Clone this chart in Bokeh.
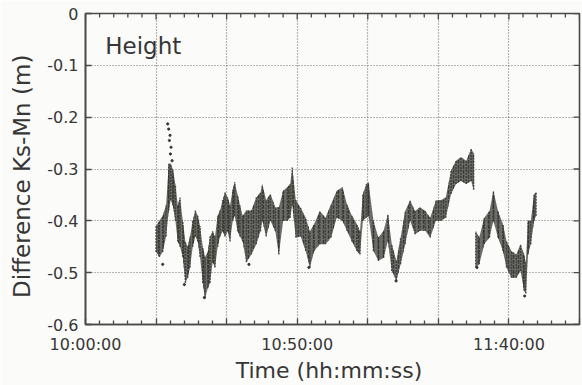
import numpy as np
from bokeh.plotting import figure
from bokeh.models import FixedTicker, CustomJSTickFormatter, Label, Range1d, ColumnDataSource
from bokeh.embed import file_html
from bokeh.resources import INLINE

# time in seconds after 10:00:00, lower/upper envelope of the scattered samples (m)
t = [1000, 1047, 1094, 1142, 1180, 1208, 1236, 1274, 1307, 1340, 1378, 1415, 1448, 1481,
     1519, 1557, 1590, 1623, 1661, 1694, 1732, 1764, 1802, 1835, 1873, 1906, 1944, 1977,
     2015, 2048, 2086, 2114, 2156, 2189, 2227, 2280, 2350, 2420, 2480, 2505, 2560, 2620,
     2690, 2740, 2800, 2860, 2900, 2930, 2980, 3050, 3120, 3180, 3240, 3320, 3400, 3480,
     3560, 3640, 3705, 3775, 3845, 3890, 3930, 3980, 4010, 4080, 4150, 4225, 4285, 4340,
     4405, 4465, 4530, 4600, 4670, 4740, 4815, 4885, 4965, 5040, 5105, 5180, 5250, 5320,
     5395, 5465, 5500,
     5530, 5580, 5650, 5725, 5780, 5845, 5915, 5965, 6035, 6105, 6165, 6215, 6240, 6270,
     6310, 6357, 6385]
lo = [-0.46, -0.47, -0.46, -0.43, -0.38, -0.36, -0.37, -0.40, -0.44, -0.45, -0.47, -0.52, -0.51, -0.49,
      -0.45, -0.43, -0.44, -0.47, -0.52, -0.55, -0.53, -0.52, -0.48, -0.49, -0.45, -0.43, -0.42, -0.43,
      -0.42, -0.44, -0.40, -0.39, -0.42, -0.43, -0.44, -0.48, -0.465, -0.445, -0.42, -0.40, -0.43, -0.40,
      -0.42, -0.465, -0.40, -0.40, -0.394, -0.37, -0.432, -0.43, -0.458, -0.49, -0.458, -0.445, -0.445, -0.432,
      -0.394, -0.40, -0.419, -0.44, -0.458, -0.465, -0.40, -0.394, -0.39, -0.458, -0.477, -0.471, -0.439, -0.497,
      -0.516, -0.484, -0.445, -0.40, -0.426, -0.419, -0.419, -0.432, -0.40, -0.40, -0.394, -0.348, -0.329, -0.323,
      -0.329, -0.323, -0.34,
      -0.49, -0.484, -0.445, -0.432, -0.40, -0.432, -0.458, -0.49, -0.51, -0.51, -0.497, -0.535, -0.54, -0.465,
      -0.445, -0.40, -0.39]
hi = [-0.41, -0.40, -0.39, -0.37, -0.29, -0.29, -0.30, -0.33, -0.37, -0.355, -0.40, -0.44, -0.45, -0.43,
      -0.40, -0.38, -0.39, -0.41, -0.45, -0.47, -0.46, -0.43, -0.42, -0.43, -0.39, -0.38, -0.36, -0.345,
      -0.355, -0.37, -0.34, -0.325, -0.35, -0.37, -0.39, -0.38, -0.38, -0.355, -0.345, -0.33, -0.36, -0.348,
      -0.374, -0.374, -0.342, -0.335, -0.329, -0.297, -0.36, -0.375, -0.394, -0.42, -0.406, -0.381, -0.394, -0.368,
      -0.342, -0.335, -0.368, -0.39, -0.406, -0.42, -0.348, -0.329, -0.326, -0.40, -0.432, -0.419, -0.387, -0.445,
      -0.477, -0.432, -0.381, -0.361, -0.381, -0.374, -0.381, -0.394, -0.361, -0.36, -0.355, -0.303, -0.284, -0.277,
      -0.284, -0.261, -0.27,
      -0.42, -0.432, -0.394, -0.381, -0.342, -0.381, -0.406, -0.439, -0.458, -0.465, -0.445, -0.465, -0.48, -0.40,
      -0.40, -0.348, -0.345]
gap_start = 5510  # recording gap

# isolated samples away from the main band
out_t = [1165, 1179, 1198, 1189, 1212, 1203, 1227, 1684, 1401, 1094, 2316, 3165, 4401, 6223, 5547]
out_v = [-0.213, -0.223, -0.235, -0.245, -0.258, -0.271, -0.284, -0.548, -0.523, -0.484, -0.484,
         -0.49, -0.516, -0.545, -0.49]

x_start, x_end = 0, 7000
y_start, y_end = -0.6, 0.0
x_major = [0, 1000, 2000, 3000, 4000, 5000, 6000, 7000]
x_minor = [m for m in range(200, 7000, 200) if m % 1000 != 0]
y_major = [-0.6, -0.5, -0.4, -0.3, -0.2, -0.1, 0.0]

ink = "#34342f"
frame = "#4a4a46"
txt = "#363636"
font = "DejaVu Sans"

p = figure(width=582, height=385, output_backend="svg", toolbar_location=None,
           x_range=Range1d(x_start, x_end), y_range=Range1d(y_start, y_end),
           min_border_left=85, min_border_right=3, min_border_top=13, min_border_bottom=61,
           background_fill_color="#fbfbf9", border_fill_color="#fbfbf9")
p.outline_line_color = frame
p.outline_line_width = 1.6

ta = np.array(t); la = np.array(lo); ha = np.array(hi)
for m in (ta < gap_start, ta >= gap_start):
    src = ColumnDataSource(dict(t=ta[m], lo=la[m], hi=ha[m]))
    p.varea(x="t", y1="lo", y2="hi", source=src, fill_color=ink, fill_alpha=0.72,
            hatch_pattern=":", hatch_color=ink, hatch_alpha=0.9, hatch_scale=5, hatch_weight=1.5)
    p.segment(x0="t", y0="lo", x1="t", y1="hi", source=src, line_color=ink, line_width=1.5,
              line_dash="2 1", line_alpha=0.8)
p.scatter(out_t, out_v, size=2.2, color=ink)

# inward tick marks on the top and right frame edges (half of each dash is clipped by the frame)
p.scatter(x_major, [y_end] * len(x_major), marker="dash", angle=np.pi / 2, size=12,
          line_color=frame, line_width=1.3)
p.scatter(x_minor, [y_end] * len(x_minor), marker="dash", angle=np.pi / 2, size=8,
          line_color=frame, line_width=1.3)
p.scatter([x_end] * len(y_major), y_major, marker="dash", size=12, line_color=frame, line_width=1.3)

xt = FixedTicker(ticks=x_major, minor_ticks=x_minor)
yt = FixedTicker(ticks=y_major, minor_ticks=[])
xfmt = CustomJSTickFormatter(code="""
if (Math.round(tick) % 3000 != 0) return "";
const h = 10 + Math.floor(tick / 3600);
const m = Math.floor((tick % 3600) / 60);
const s = Math.round(tick % 60);
return h + ":" + String(m).padStart(2, "0") + ":" + String(s).padStart(2, "0");
""")
yfmt = CustomJSTickFormatter(code="return tick > -0.05 ? '0' : tick.toFixed(1);")

xa = p.xaxis[0]
xa.ticker = xt
xa.formatter = xfmt
ya = p.yaxis[0]
ya.ticker = yt
ya.formatter = yfmt

for ax in (xa, ya):
    ax.axis_line_color = frame
    ax.axis_line_width = 1.6
    ax.major_tick_line_color = frame
    ax.minor_tick_line_color = frame
    ax.major_tick_line_width = 1.3
    ax.minor_tick_line_width = 1.3
    ax.major_tick_in = 6
    ax.major_tick_out = 0
    ax.minor_tick_in = 4
    ax.minor_tick_out = 0
    ax.major_label_text_font = font
    ax.major_label_text_font_size = "16px"
    ax.major_label_text_color = txt
    ax.axis_label_text_font = font
    ax.axis_label_text_font_style = "normal"
    ax.axis_label_text_color = txt

xa.axis_label = "Time  (hh:mm:ss)"
xa.axis_label_text_font_size = "22px"
xa.major_label_standoff = 10
xa.axis_label_standoff = 1
ya.axis_label = "Difference  Ks-Mn  (m)"
ya.axis_label_text_font_size = "23px"
ya.major_label_standoff = 7
ya.axis_label_standoff = 9

for g in (p.xgrid[0], p.ygrid[0]):
    g.grid_line_color = "#6f6f6a"
    g.grid_line_dash = "1 2"
    g.grid_line_width = 1.2

p.add_layout(Label(x=280, y=-0.062, text="Height", text_font=font, text_font_size="23px",
                   text_color=txt, text_baseline="middle"))

open("out.html", "w").write(file_html(p, INLINE))
